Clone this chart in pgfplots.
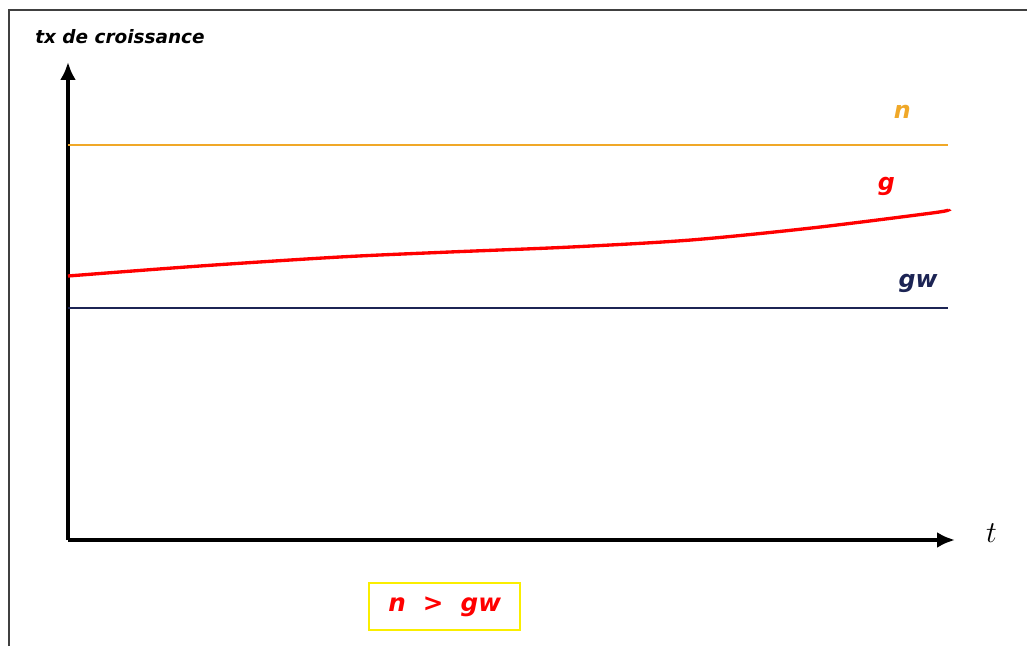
\documentclass[border=0pt]{standalone}
\usepackage{fontspec}
\setmainfont{DejaVu Sans}
\usepackage{pgfplots}
\pgfplotsset{compat=1.18}
\usetikzlibrary{arrows.meta}

\definecolor{nline}{RGB}{240,168,40}
\definecolor{gwline}{RGB}{28,36,84}
\definecolor{boxy}{RGB}{250,238,0}

\begin{document}
\begin{tikzpicture}
\useasboundingbox (0,0) rectangle (20.54cm,12.92cm);
% cadre de la figure (coupe a droite et en bas)
\draw[line width=0.8pt, black!75] (0.18cm,0) -- (0.18cm,12.72cm) -- (20.54cm,12.72cm);
\begin{axis}[
    at={(1.36cm,2.12cm)}, anchor=south west,
    scale only axis, width=17.74cm, height=9.56cm,
    xmin=0, xmax=10.08, ymin=0, ymax=4.78,
    axis lines=left,
    axis line style={line width=2.3pt, -{Latex[length=0.36cm,width=0.32cm]}},
    ticks=none,
    clip=false,
    xlabel={$t$},
    xlabel style={at={(axis description cs:1,0)}, anchor=west, xshift=0.5cm, yshift=0.14cm,
        font=\fontsize{16}{18}\selectfont},
    ylabel={tx de croissance},
    ylabel style={rotate=-90, at={(axis description cs:0,1)}, anchor=center,
        xshift=1.04cm, yshift=0.5cm, font=\fontsize{10.5}{12}\selectfont\bfseries\itshape},
]
% n
\addplot[nline, line width=1.2pt] coordinates {(0,3.95) (10,3.95)};
% g
\addplot[red, line width=1.9pt, smooth] coordinates {
    (0,2.64) (1.5,2.74) (3.09,2.83) (4.34,2.88) (5.72,2.93)
    (7.08,3.00) (8.45,3.12) (9.82,3.27) (10,3.30)
};
% gw
\addplot[gwline, line width=1.5pt] coordinates {(0,2.32) (10,2.32)};

\node[text=nline, font=\fontsize{13.5}{15}\selectfont\bfseries\itshape] at (axis cs:9.48,4.28) {n};
\node[text=red, font=\fontsize{13.5}{15}\selectfont\bfseries\itshape] at (axis cs:9.30,3.54) {g};
\node[text=gwline, font=\fontsize{13.5}{15}\selectfont\bfseries\itshape] at (axis cs:9.66,2.57) {gw};

\node[draw=boxy, line width=0.8pt, minimum width=3.02cm, minimum height=0.94cm, inner sep=0pt,
    text=red, font=\fontsize{14}{16}\selectfont\bfseries\itshape]
    at (axis cs:4.28,-0.665) {n \ > \ gw};
\end{axis}
\end{tikzpicture}
\end{document}
